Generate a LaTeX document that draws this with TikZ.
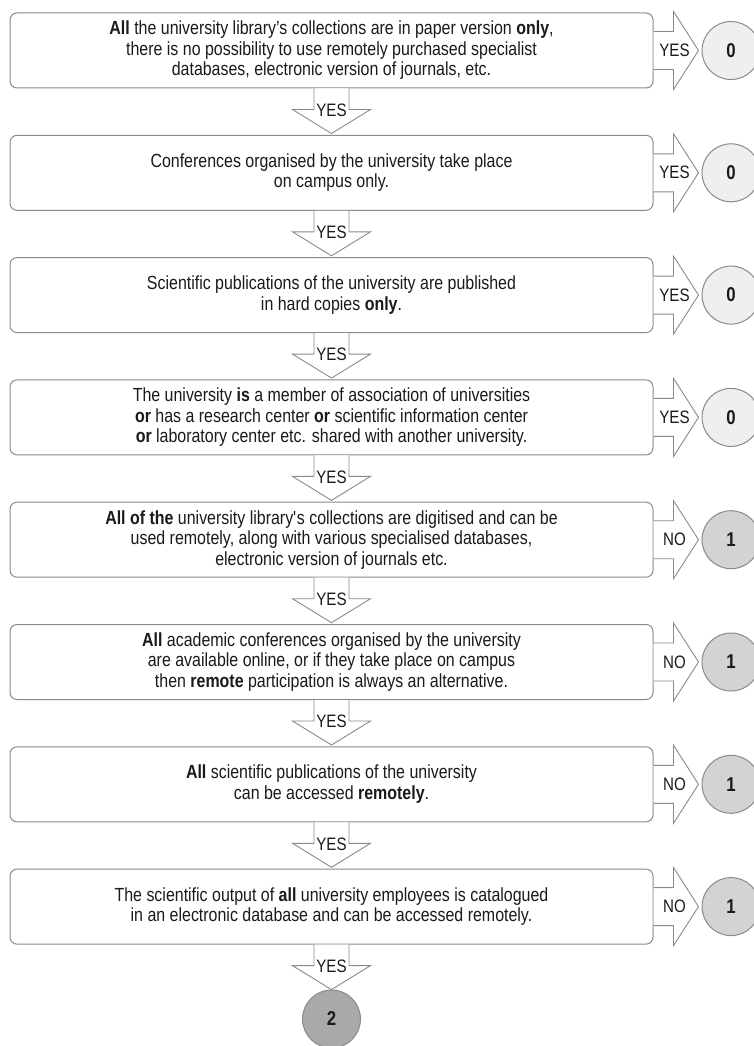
\documentclass[tikz,border=0pt]{standalone}
\usepackage{fontspec}
\setmainfont[FakeStretch=0.84]{Liberation Sans}
\definecolor{edge}{HTML}{8A8A8A}
\definecolor{zerofill}{HTML}{EFEFEF}
\definecolor{onefill}{HTML}{D3D3D3}
\definecolor{twofill}{HTML}{A9A9A9}
\definecolor{ink}{HTML}{1A1A1A}
\tikzset{
  qbox/.style={draw=edge, line width=1pt, rounded corners=7pt, fill=white,
    minimum width=643pt, minimum height=75pt, inner sep=0pt, align=center,
    text=ink, font=\fontsize{19}{20.5}\selectfont},
  arr/.style={draw=edge, line width=0.9pt, fill=white, line join=miter},
  lbl/.style={text=ink, inner sep=0pt, font=\fontsize{18}{20}\selectfont},
  res/.style={circle, draw=edge, line width=1pt, minimum size=58pt, inner sep=0pt,
    text=ink, font=\fontsize{20}{20}\selectfont\bfseries},
  r0/.style={res, fill=zerofill},
  r1/.style={res, fill=onefill},
  r2/.style={res, fill=twofill},
}
\newcommand\rightarr[2]{%
  \draw[arr] ([yshift=19pt]#1.east) -- ++(20,0) -- ++(0,20) -- ++(25,-39) -- ++(-25,-39) -- ++(0,20) -- ++(-20,0);
  \node[lbl] at ([xshift=21pt]#1.east) {#2};
}
\newcommand\downarr[1]{%
  \draw[arr] ([xshift=-17.5pt]#1.south) -- ++(0,-21) -- ++(-21.5,0) -- ++(39,-24) -- ++(39,24) -- ++(-21.5,0) -- ++(0,21);
  \node[lbl] at ([yshift=-21.5pt]#1.south) {YES};
}
\begin{document}
\begin{tikzpicture}[x=1pt,y=1pt]
\useasboundingbox (0,0) rectangle (754,-1046);
\node[qbox] (b1) at (331.5,-50.5) {\textbf{All} the university library’s collections are in paper version \textbf{only},\\there is no possibility to use remotely purchased specialist\\databases, electronic version of journals, etc.};
\node[qbox] (b2) at (331.5,-172.8) {Conferences organised by the university take place\\on campus only.};
\node[qbox] (b3) at (331.5,-295.1) {Scientific publications of the university are published\\in hard copies \textbf{only}.};
\node[qbox] (b4) at (331.5,-417.4) {The university \textbf{is} a member of association of universities\\\textbf{or} has a research center \textbf{or} scientific information center\\\textbf{or} laboratory center etc. shared with another university.};
\node[qbox] (b5) at (331.5,-539.7) {\textbf{All of the} university library\textquotesingle s collections are digitised and can be\\used remotely, along with various specialised databases,\\electronic version of journals etc.};
\node[qbox] (b6) at (331.5,-662.0) {\textbf{All} academic conferences organised by the university\\are available online, or if they take place on campus\\then \textbf{remote} participation is always an alternative.};
\node[qbox] (b7) at (331.5,-784.3) {\textbf{All} scientific publications of the university\\can be accessed \textbf{remotely}.};
\node[qbox] (b8) at (331.5,-906.6) {The scientific output of \textbf{all} university employees is catalogued\\in an electronic database and can be accessed remotely.};

\node[r0] (c1) at (731,-50.5) {0};
\node[r0] (c2) at (731,-172.8) {0};
\node[r0] (c3) at (731,-295.1) {0};
\node[r0] (c4) at (731,-417.4) {0};
\node[r1] (c5) at (731,-539.7) {1};
\node[r1] (c6) at (731,-662.0) {1};
\node[r1] (c7) at (731,-784.3) {1};
\node[r1] (c8) at (731,-906.6) {1};
\node[r2] (cend) at (331.5,-1019) {2};

\rightarr{b1}{YES}
\rightarr{b2}{YES}
\rightarr{b3}{YES}
\rightarr{b4}{YES}
\rightarr{b5}{NO}
\rightarr{b6}{NO}
\rightarr{b7}{NO}
\rightarr{b8}{NO}
\downarr{b1}
\downarr{b2}
\downarr{b3}
\downarr{b4}
\downarr{b5}
\downarr{b6}
\downarr{b7}
\downarr{b8}
\end{tikzpicture}
\end{document}
